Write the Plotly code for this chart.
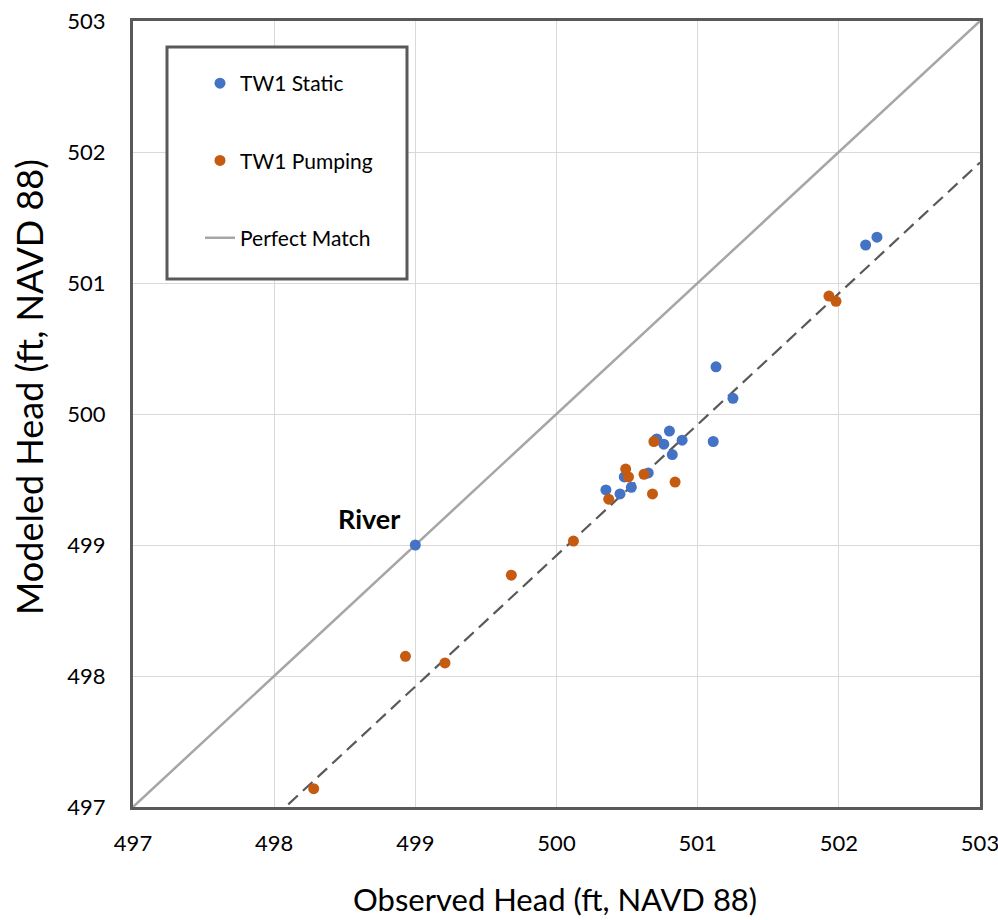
import plotly.graph_objects as go

# Observed vs. modeled heads (ft, NAVD 88)
static_obs = [499.00, 500.35, 500.45, 500.48, 500.53, 500.65, 500.71, 500.76,
              500.80, 500.82, 500.89, 501.11, 501.13, 501.25, 502.19, 502.27]
static_mod = [499.00, 499.42, 499.39, 499.52, 499.44, 499.55, 499.81, 499.77,
              499.87, 499.69, 499.80, 499.79, 500.36, 500.12, 501.29, 501.35]

pump_obs = [498.28, 498.93, 499.21, 499.68, 500.12, 500.37, 500.49, 500.51,
            500.62, 500.68, 500.69, 500.84, 501.93, 501.98]
pump_mod = [497.14, 498.15, 498.10, 498.77, 499.03, 499.35, 499.58, 499.52,
            499.54, 499.39, 499.79, 499.48, 500.90, 500.86]

perfect_x = [497, 503]
perfect_y = [497, 503]

trend_x = [498.10, 503.00]
trend_y = [497.02, 501.92]

axis_ticks = [497, 498, 499, 500, 501, 502, 503]

river_label = (498.67, 499.20)

FONT = "Lato, Carlito, Open Sans, sans-serif"
BLUE = "#4472C4"
ORANGE = "#C55A11"

fig = go.Figure()

fig.add_trace(go.Scatter(
    x=perfect_x, y=perfect_y, mode="lines", name="Perfect Match",
    line=dict(color="#A6A6A6", width=2.5), legendgroup="c", legendrank=3,
))
fig.add_trace(go.Scatter(
    x=trend_x, y=trend_y, mode="lines", showlegend=False,
    line=dict(color="#595959", width=2.2, dash="13px,7px"),
))
fig.add_trace(go.Scatter(
    x=static_obs, y=static_mod, mode="markers", name="TW1 Static",
    marker=dict(color=BLUE, size=11), legendgroup="a", legendrank=1,
))
fig.add_trace(go.Scatter(
    x=pump_obs, y=pump_mod, mode="markers", name="TW1 Pumping",
    marker=dict(color=ORANGE, size=11), legendgroup="b", legendrank=2,
))

fig.add_annotation(
    x=river_label[0], y=river_label[1], xref="x", yref="y",
    text="<b>River</b>", showarrow=False, xanchor="center", yanchor="middle",
    font=dict(family=FONT, size=27, color="#000000"),
)

# plot-area geometry in pixels, used to place the legend frame and titles
L, T, W, H = 133, 21, 847, 786
def px_x(p):
    return (p - L) / W
def px_y(p):
    return 1 - (p - T) / H

fig.add_shape(
    type="rect", xref="paper", yref="paper",
    x0=px_x(167), x1=px_x(407), y0=px_y(279), y1=px_y(47),
    line=dict(color="#595959", width=3), fillcolor="white", layer="above",
)

fig.add_annotation(
    x=px_x(555), y=px_y(899), xref="paper", yref="paper",
    xanchor="center", yanchor="middle",
    text="Observed Head (ft, NAVD 88)", showarrow=False,
    font=dict(family=FONT, size=31, color="#000000"),
)
fig.add_annotation(
    x=px_x(29), y=px_y(387), xref="paper", yref="paper",
    xanchor="center", yanchor="middle",
    text="Modeled Head (ft, NAVD 88)", showarrow=False, textangle=-90,
    font=dict(family=FONT, size=36, color="#000000"),
)

axis_common = dict(
    range=[497, 503], tickvals=axis_ticks, ticktext=[str(t) for t in axis_ticks],
    showgrid=True, gridcolor="#D9D9D9", gridwidth=1,
    showline=True, linecolor="#595959", linewidth=3, mirror=True,
    zeroline=False, ticks="", tickfont=dict(family=FONT, size=22, color="#000000"),
    ticklabeloverflow="allow", automargin=False, fixedrange=True,
)

fig.update_layout(
    width=998, height=920,
    margin=dict(l=L, r=998 - L - W, t=T, b=920 - T - H, autoexpand=False),
    paper_bgcolor="white", plot_bgcolor="white",
    xaxis=dict(**axis_common, ticklabelstandoff=15),
    yaxis=dict(**axis_common, ticklabelstandoff=20),
    legend=dict(
        x=px_x(200), y=px_y(63), xanchor="left", yanchor="top",
        bgcolor="rgba(0,0,0,0)", borderwidth=0,
        font=dict(family=FONT, size=21, color="#000000"),
        tracegroupgap=47, itemwidth=30,
    ),
    showlegend=True,
)

fig.write_html("out.html")
